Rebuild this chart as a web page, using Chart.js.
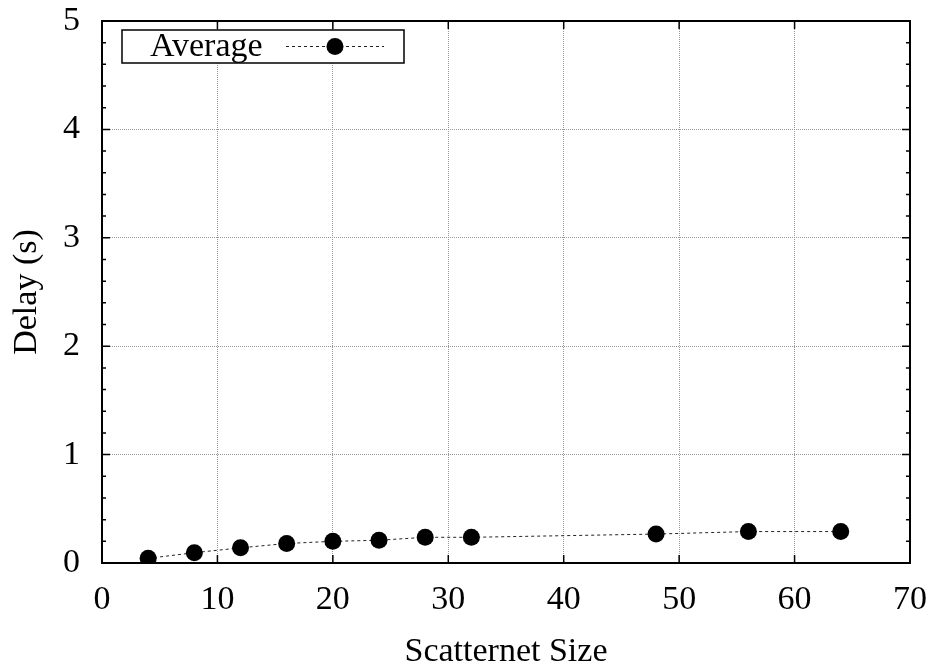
<!DOCTYPE html>
<html>
<head>
<meta charset="utf-8">
<script src="https://cdn.jsdelivr.net/npm/chart.js@4.4.0/dist/chart.umd.min.js"></script>
<style>
  html, body { margin: 0; padding: 0; background: #fff; }
  #wrap { width: 930px; height: 663px; }
</style>
</head>
<body>
<div id="wrap"><canvas id="myChart" width="930" height="663"></canvas></div>
<script>
var sizes = [4, 8, 12, 16, 20, 24, 28, 32, 48, 56, 64];
var delays = [0.043, 0.095, 0.14, 0.18, 0.20, 0.21, 0.237, 0.237, 0.267, 0.29, 0.29];
var xTicks = [0, 10, 20, 30, 40, 50, 60, 70];
var yTicks = [0, 1, 2, 3, 4, 5];
var seriesName = 'Average';

var font = 'Liberation Serif, Times New Roman, serif';

// gnuplot style frame, inward ticks and the boxed legend
var frame = {
  id: 'frame',
  afterDraw: function(chart) {
    var c = chart.ctx, a = chart.chartArea;
    var xs = chart.scales.x, ys = chart.scales.y;
    c.save();
    c.strokeStyle = '#000';
    c.lineWidth = 1.5;
    c.setLineDash([]);
    c.beginPath();
    xTicks.forEach(function(v) {
      var px = xs.getPixelForValue(v);
      c.moveTo(px, a.bottom); c.lineTo(px, a.bottom - 8);
      c.moveTo(px, a.top); c.lineTo(px, a.top + 8);
    });
    for (var i = 0; i <= 25; i++) {
      var v = i * 0.2;
      var py = ys.getPixelForValue(v);
      var len = (i % 5 === 0) ? 8 : 4;
      c.moveTo(a.left, py); c.lineTo(a.left + len, py);
      c.moveTo(a.right, py); c.lineTo(a.right - len, py);
    }
    c.stroke();
    c.lineWidth = 2;
    c.strokeRect(a.left, a.top, a.right - a.left, a.bottom - a.top);

    // legend
    var lx = 122, ly = 30, lw = 282, lh = 33;
    c.fillStyle = '#fff';
    c.fillRect(lx, ly, lw, lh);
    c.lineWidth = 1.5;
    c.strokeRect(lx, ly, lw, lh);
    c.fillStyle = '#000';
    c.font = '34px ' + font;
    c.textBaseline = 'middle';
    c.textAlign = 'left';
    c.fillText(seriesName, 150, ly + lh / 2 + 1);
    c.strokeStyle = '#222';
    c.lineWidth = 1;
    c.setLineDash([3, 3]);
    c.beginPath();
    c.moveTo(286, ly + lh / 2); c.lineTo(384, ly + lh / 2);
    c.stroke();
    c.setLineDash([]);
    c.beginPath();
    c.arc(335, ly + lh / 2, 8.5, 0, Math.PI * 2);
    c.fill();
    c.restore();
  }
};

var ctx = document.getElementById('myChart').getContext('2d');
var myChart = new Chart(ctx, {
  type: 'scatter',
  data: {
    datasets: [{
      label: seriesName,
      data: sizes.map(function(s, i) { return { x: s, y: delays[i] }; }),
      showLine: true,
      borderColor: '#222',
      borderWidth: 1,
      borderDash: [3, 3],
      pointRadius: 8.5,
      pointBackgroundColor: '#000',
      pointBorderColor: '#000',
      pointBorderWidth: 0
    }]
  },
  options: {
    responsive: false,
    animation: false,
    layout: { padding: { left: 0, right: 20, top: 21, bottom: 0 } },
    plugins: { legend: { display: false }, tooltip: { enabled: false } },
    scales: {
      x: {
        type: 'linear',
        min: 0, max: 70,
        afterBuildTicks: function(s) { s.ticks = xTicks.map(function(v) { return { value: v }; }); },
        afterFit: function(s) { s.height = 100; s.paddingLeft = 0; s.paddingRight = 0; },
        grid: { color: '#999', lineWidth: 1, drawTicks: false },
        border: { display: false, dash: [1, 1] },
        ticks: { color: '#000', padding: 17, font: { family: font, size: 34 } },
        title: { display: true, text: 'Scatternet Size', color: '#000', padding: { top: 0, bottom: -9 }, font: { family: font, size: 34 } }
      },
      y: {
        type: 'linear',
        min: 0, max: 5,
        afterBuildTicks: function(s) { s.ticks = yTicks.map(function(v) { return { value: v }; }); },
        afterFit: function(s) { s.width = 102; s.paddingTop = 0; s.paddingBottom = 0; },
        grid: { color: '#999', lineWidth: 1, drawTicks: false },
        border: { display: false, dash: [1, 1] },
        ticks: { color: '#000', padding: 22, font: { family: font, size: 34 } },
        title: { display: true, text: 'Delay (s)', color: '#000', padding: { top: 7, bottom: 0 }, font: { family: font, size: 34 } }
      }
    }
  },
  plugins: [frame]
});
</script>
</body>
</html>
